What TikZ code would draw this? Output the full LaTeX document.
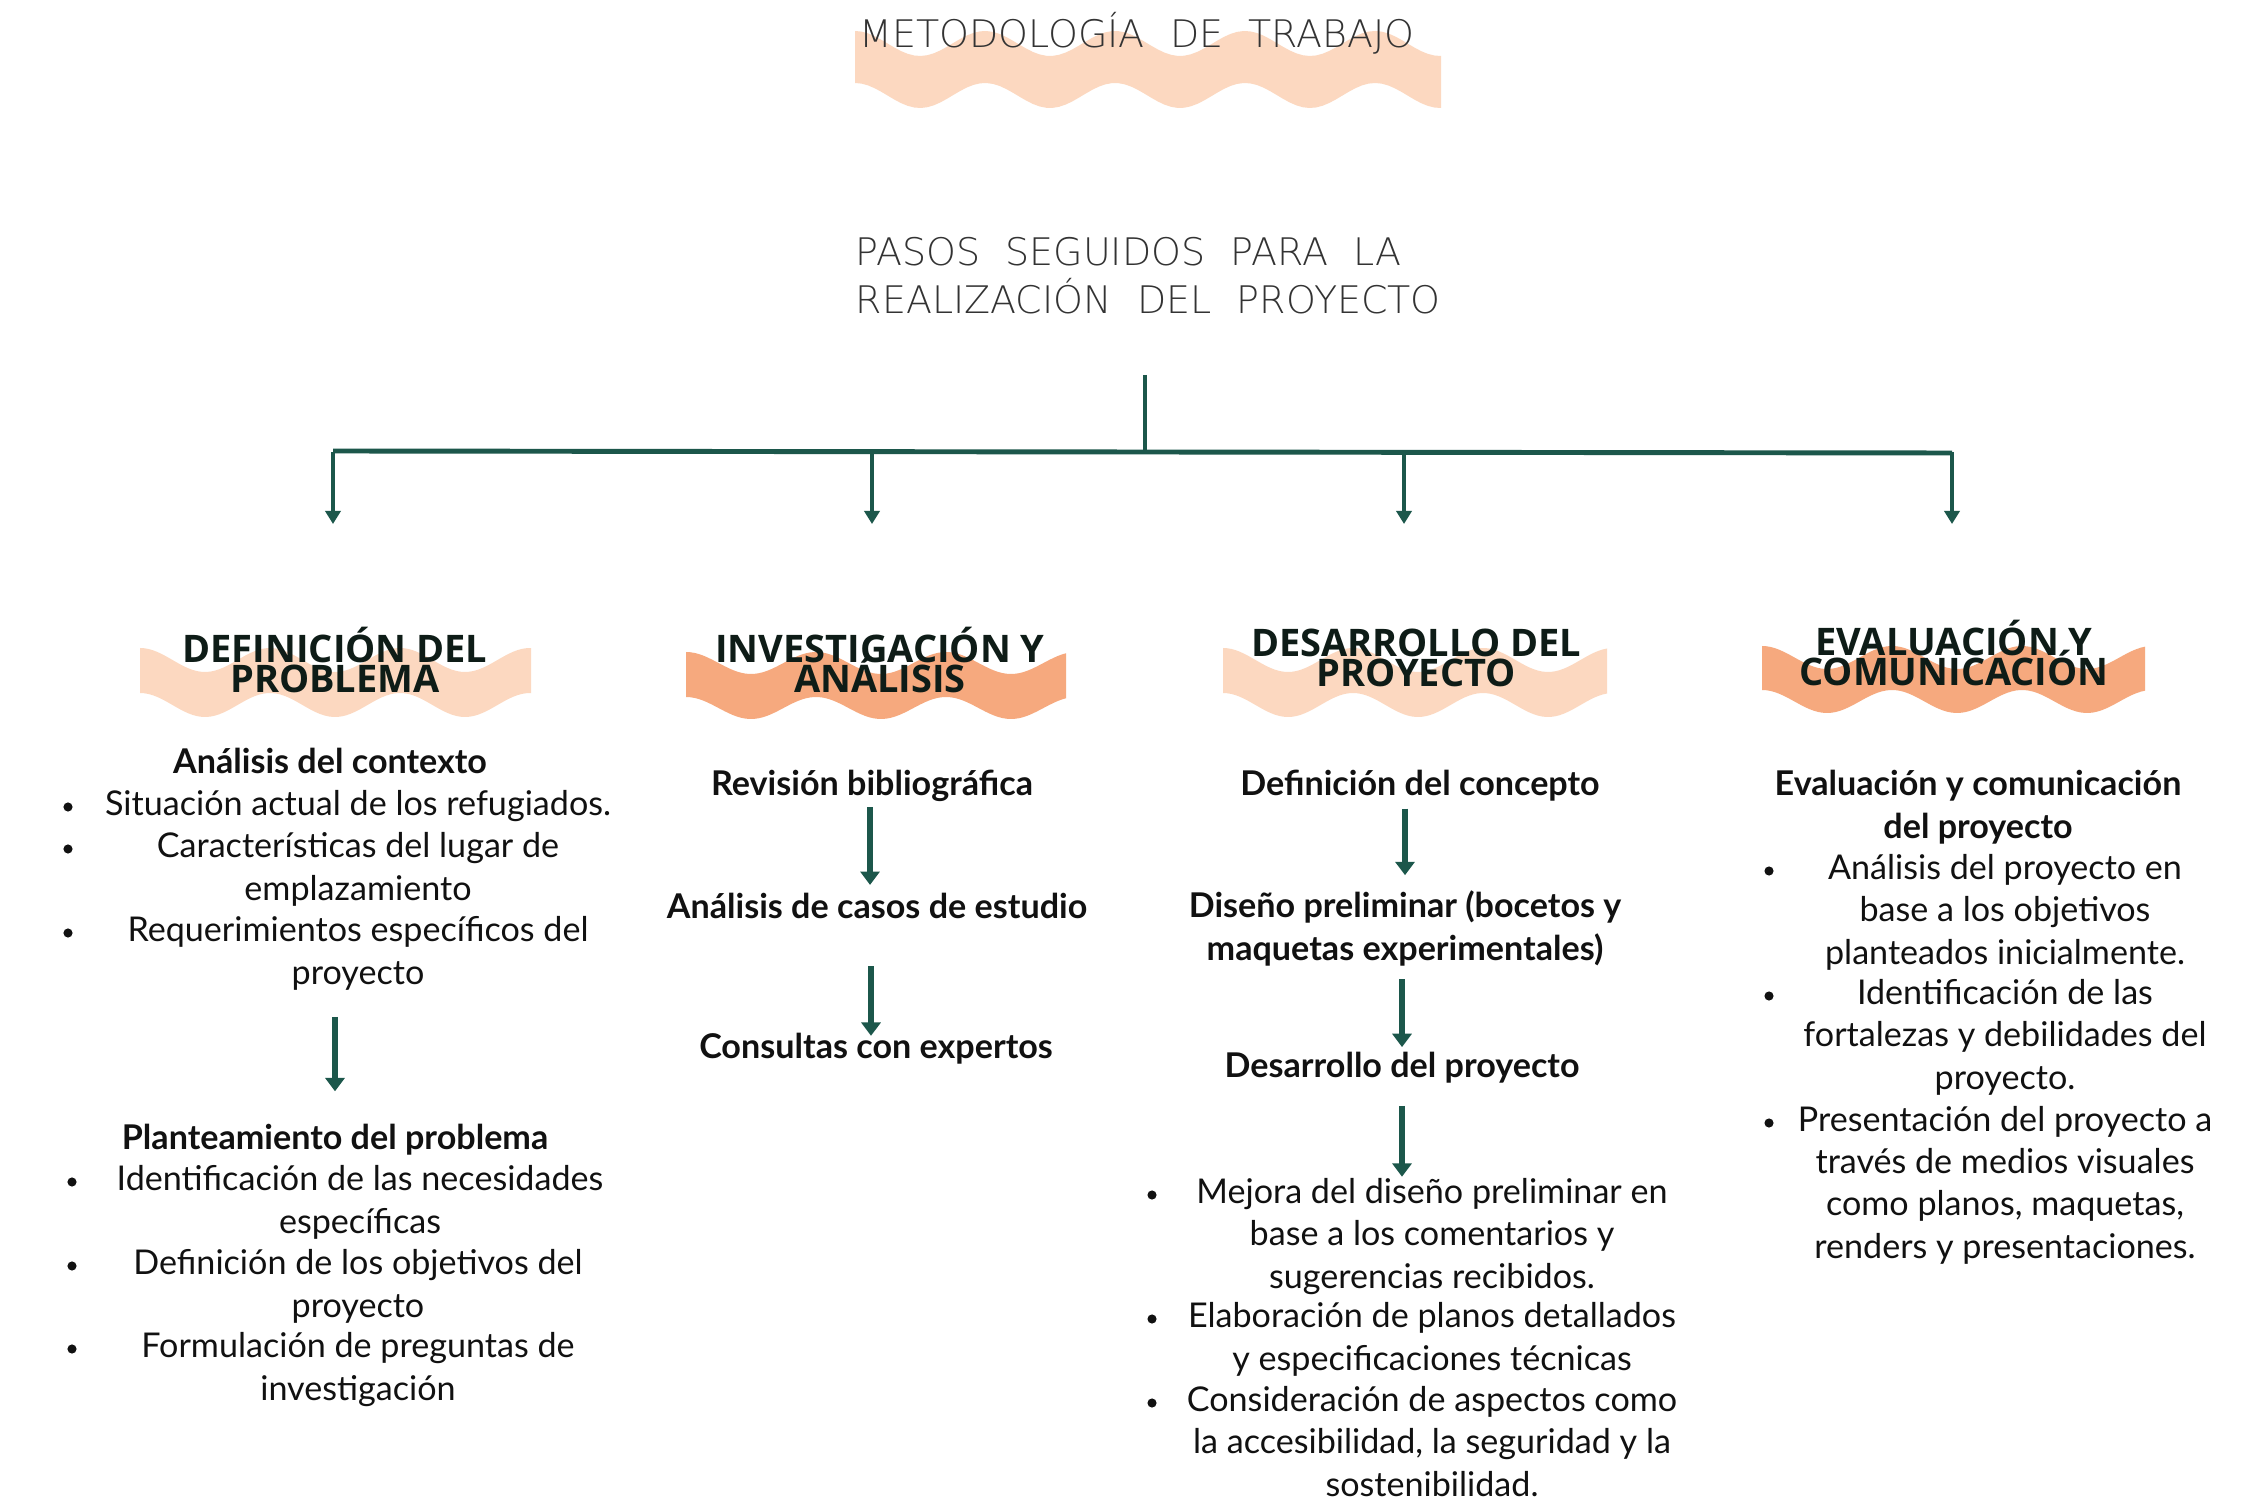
\documentclass[tikz,border=0pt]{standalone}
\usepackage{fontspec}
\setmainfont{Lato}
\newfontfamily\headfont{Open Sans}
\newfontfamily\thinfont[WordSpace=2.1]{DejaVu Sans ExtraLight}
\usetikzlibrary{arrows.meta}

\definecolor{peach}{HTML}{FCD8C0}
\definecolor{salmon}{HTML}{F6A97E}
\definecolor{pine}{HTML}{1C574B}
\definecolor{ink}{HTML}{111111}
\definecolor{headink}{HTML}{0E1C17}
\definecolor{greyink}{HTML}{333333}

\newcommand{\tightlines}{\lineskiplimit -20pt\relax}

% wavy ribbon: left x, right x, top y, thickness, swing, period, colour
\newcommand{\wavyband}[7]{%
  \fill[#7] plot[domain=#1:#2, samples=90] (\x, {#3 + #5/2*(1-cos(360/#6*(\x-#1)))})
    -- plot[domain=#2:#1, samples=90] (\x, {#3 + #4 + #5/2*(1-cos(360/#6*(\x-#1)))}) -- cycle;}

% note: base of a multi-line node is its last line
\tikzset{
  titletext/.style={font=\thinfont\fontsize{10.8}{13.7}\selectfont, text=greyink, inner sep=0pt, anchor=base},
  head/.style={font=\headfont\bfseries\fontsize{10.8}{8.8}\selectfont\tightlines, text=headink, align=center, inner sep=0pt, anchor=base},
  lead/.style={font=\fontsize{9.7}{12}\selectfont\bfseries, text=ink, align=center, inner sep=0pt, anchor=base},
  item/.style={font=\fontsize{9.7}{12}\selectfont, text=ink, align=center, inner sep=0pt, anchor=base},
  trunk/.style={draw=pine, line width=1.4pt},
  branch/.style={draw=pine, line width=0.9pt, -{Triangle[length=3.7pt,width=4.3pt]}},
  flow/.style={draw=pine, line width=1.5pt, -{Triangle[length=3.8pt,width=5.4pt]}},
}

\begin{document}
\begin{tikzpicture}[x=0.01cm, y=-0.01cm]
    \useasboundingbox (0,0) rectangle (2261,1504);
    \fill[white] (0,0) rectangle (2261,1504);

    % title
    \wavyband{855}{1441}{31}{52}{25}{130}{peach}
    \node[titletext] (title) at (1137,48) {METODOLOGÍA DE TRABAJO};
    \node[titletext, align=left, anchor=base west] (steps) at (855,314) {PASOS SEGUIDOS PARA LA\\REALIZACIÓN DEL PROYECTO};

    % tree
    \coordinate (stem) at (1145,375);
    \coordinate (hub) at (1145,452);
    \coordinate (barL) at (333,451);
    \coordinate (barR) at (1952,453);
    \draw[trunk] (stem) -- (hub);
    \draw[trunk] (barL) -- (barR);
    \foreach \x [count=\i] in {333,872,1404,1952} {
        \coordinate (fork\i) at (\x,452);
        \coordinate (tip\i) at (\x,524);
        \draw[branch] (fork\i) -- (tip\i);
    }

    % column headers
    \wavyband{140}{531}{648}{45}{24}{130}{peach}
    \wavyband{686}{1066}{652}{45}{22}{130}{salmon}
    \wavyband{1223}{1607}{648}{45}{24}{130}{peach}
    \wavyband{1762}{2145}{646}{44}{23}{130}{salmon}
    \node[head] (h1) at (335,693) {DEFINICIÓN DEL\\PROBLEMA};
    \node[head] (h2) at (880,693) {INVESTIGACIÓN Y\\ANÁLISIS};
    \node[head] (h3) at (1416,687) {DESARROLLO DEL\\PROYECTO};
    \node[head] (h4) at (1954,686) {EVALUACIÓN Y\\COMUNICACIÓN};

    % column 1
    \node[lead] (ctx) at (330,774) {Análisis del contexto};
    \node[item] (ctx1) at (358,816) {Situación actual de los refugiados.};
    \node[item] (ctx2) at (358,900) {Características del lugar de\\emplazamiento};
    \node[item] (ctx3) at (358,984) {Requerimientos específicos del\\proyecto};
    \node[lead] (plant) at (335,1149) {Planteamiento del problema};
    \node[item] (pl1) at (360,1233) {Identificación de las necesidades\\específicas};
    \node[item] (pl2) at (358,1317) {Definición de los objetivos del\\proyecto};
    \node[item] (pl3) at (358,1400) {Formulación de preguntas de\\investigación};
    \draw[flow, shorten <=7.5pt, shorten >=9pt] (ctx3.south -| plant.north) -- (plant.north);

    % column 2
    \node[lead] (biblio) at (872,796) {Revisión bibliográfica};
    \node[lead] (casos) at (877,918) {Análisis de casos de estudio};
    \node[lead] (expert) at (876,1058) {Consultas con expertos};
    \draw[flow, shorten <=1.3pt, shorten >=2pt] (biblio.south -| 870,0) -- (casos.north -| 870,0);
    \draw[flow, shorten <=13.4pt, shorten >=-1.1pt] (casos.south -| 871,0) -- (expert.north -| 871,0);

    % column 3
    \node[lead] (concept) at (1420,796) {Definición del concepto};
    \node[lead] (prelim) at (1405,960) {Diseño preliminar (bocetos y\\maquetas experimentales)};
    \node[lead] (devel) at (1402,1077) {Desarrollo del proyecto};
    \node[item] (mejora) at (1432,1288) {Mejora del diseño preliminar en\\base a los comentarios y\\sugerencias recibidos.};
    \node[item] (planos) at (1432,1370) {Elaboración de planos detallados\\y especificaciones técnicas};
    \node[item] (aspect) at (1432,1496) {Consideración de aspectos como\\la accesibilidad, la seguridad y la\\sostenibilidad.};
    \draw[flow, shorten <=1.8pt, shorten >=4.3pt] (concept.south -| prelim.north) -- (prelim.north);
    \draw[flow, shorten <=3.7pt, shorten >=1.1pt] (prelim.south -| devel.north) -- (devel.north);
    \draw[flow, shorten <=6.4pt, shorten >=0.3pt] (devel.south) -- (devel.south |- mejora.north);

    % column 4
    \node[lead] (evalc) at (1978,838) {Evaluación y comunicación\\del proyecto};
    \node[item] (ev1) at (2005,964) {Análisis del proyecto en\\base a los objetivos\\planteados inicialmente.};
    \node[item] (ev2) at (2005,1089) {Identificación de las\\fortalezas y debilidades del\\proyecto.};
    \node[item] (ev3) at (2005,1258) {Presentación del proyecto a\\través de medios visuales\\como planos, maquetas,\\renders y presentaciones.};

    % bullets
    \foreach \x/\y in {68/807, 68/849, 68/933, 72/1182, 72/1266, 72/1349,
                       1152/1195, 1152/1319, 1152/1403, 1769/871, 1769/996, 1769/1123}
        \fill[ink] (\x,\y) circle (1.3pt);
\end{tikzpicture}
\end{document}
